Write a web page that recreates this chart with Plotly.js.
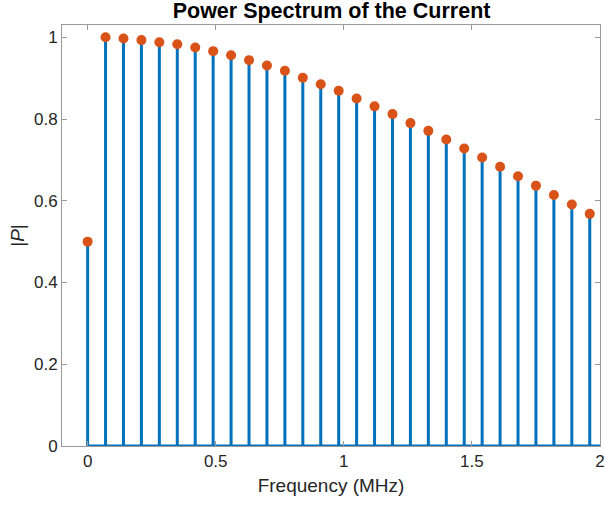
<!DOCTYPE html>
<html>
<head>
<meta charset="utf-8">
<script src="https://cdn.plot.ly/plotly-3.0.1.min.js"></script>
<style>html,body{margin:0;padding:0;background:#fff;}#chart{width:605px;height:508px;}</style>
</head>
<body>
<div id="chart"></div>
<script>
// Frequencies in MHz (spacing 0.07 MHz)
const freq = [0, 0.07, 0.14, 0.21, 0.28, 0.35, 0.42, 0.49, 0.56, 0.63, 0.70, 0.77, 0.84, 0.91, 0.98,
              1.05, 1.12, 1.19, 1.26, 1.33, 1.40, 1.47, 1.54, 1.61, 1.68, 1.75, 1.82, 1.89, 1.96];
// |P| values
const power = [0.500, 1.000, 0.997, 0.993, 0.988, 0.983, 0.975, 0.966, 0.956, 0.944, 0.931, 0.918, 0.901, 0.885, 0.869,
               0.850, 0.831, 0.812, 0.790, 0.771, 0.750, 0.728, 0.706, 0.683, 0.660, 0.637, 0.614, 0.591, 0.568];
const xTicks = [0, 0.5, 1, 1.5, 2];
const xTickLabels = ['0', '0.5', '1', '1.5', '2'];
const yTicks = [0, 0.2, 0.4, 0.6, 0.8, 1];
const yTickLabels = ['0', '0.2', '0.4', '0.6', '0.8', '1'];

const stemX = [], stemY = [];
freq.forEach((f, i) => { stemX.push(f, f, null); stemY.push(0, power[i], null); });

const blue = '#0072BD', orange = '#D95319';
const axisColor = '#9a9a9a', textColor = '#262626';
const font = 'Liberation Sans, Arial, Helvetica, sans-serif';

const traces = [
  { x: [freq[0], 2], y: [0, 0], mode: 'lines', line: {color: blue, width: 3}, hoverinfo: 'skip', cliponaxis: false },
  { x: stemX, y: stemY, mode: 'lines', line: {color: blue, width: 3}, hoverinfo: 'skip' },
  { x: freq, y: power, mode: 'markers', marker: {color: orange, size: 10, line: {width: 0}}, cliponaxis: false }
];

const layout = {
  width: 605, height: 508,
  margin: {l: 62, r: 5, t: 25, b: 62},
  paper_bgcolor: '#fff', plot_bgcolor: '#fff',
  showlegend: false,
  font: {family: font, color: textColor, size: 17},
  title: {text: '<b>Power Spectrum of the Current</b>', font: {family: font, size: 21.5, color: '#000'},
          x: 0.548, xanchor: 'center', y: 0.995, yanchor: 'top'},
  xaxis: {
    range: [-0.1, 2], tickvals: xTicks, ticktext: xTickLabels,
    showgrid: false, zeroline: false, showline: true, mirror: 'ticks',
    linecolor: axisColor, linewidth: 1, ticks: 'inside', ticklen: 5, tickcolor: axisColor,
    tickfont: {size: 17, color: textColor},
    title: {text: 'Frequency (MHz)', font: {size: 19, color: textColor}, standoff: 8}
  },
  yaxis: {
    range: [0, 1.03], tickvals: yTicks, ticktext: yTickLabels,
    showgrid: false, zeroline: false, showline: true, mirror: 'ticks',
    linecolor: axisColor, linewidth: 1, ticks: 'inside', ticklen: 5, tickcolor: axisColor,
    tickfont: {size: 17, color: textColor},
    title: {text: '|<i>P</i>|', font: {size: 19, color: textColor}, standoff: 4}
  }
};

Plotly.newPlot('chart', traces, layout, {displayModeBar: false, staticPlot: true});
</script>
</body>
</html>
